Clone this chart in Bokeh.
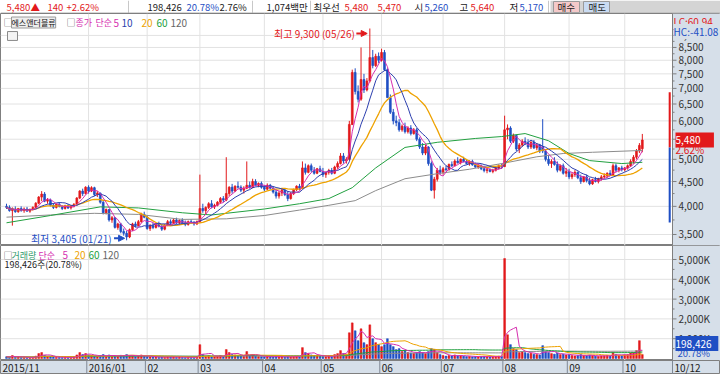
import numpy as np
import pandas as pd
from bokeh.plotting import figure
from bokeh.layouts import column
from bokeh.models import Range1d, Label, Arrow, NormalHead, ColumnDataSource
from bokeh.core.properties import value
from bokeh.embed import file_html
from bokeh.resources import INLINE

# ---------------- data ----------------
month_labels = ["2015/11", "2016/01", "02", "03", "04", "05", "06", "07", "08", "09", "10"]
month_starts = [0, 28, 48, 66, 88, 108, 128, 149, 170, 192, 211]
last_date_label = "10/12"
high_date = "05/26"
low_date = "01/21"

opens = [
    4000, 3980, 3920, 3950, 3900, 3960,
    3920, 3950, 3910, 3940, 3980, 4060, 4180, 4240, 4100, 4120, 4020, 3980, 4040, 4000, 3960, 4010, 3970, 4000, 4040, 4160, 4300, 4250,
    4380, 4300, 4370, 4230, 4260, 4080, 3880, 3940, 3750, 3790, 3620, 3680, 3550, 3520, 3460, 3580, 3680, 3650, 3720, 3850,
    3800, 3600, 3650, 3620, 3680, 3640, 3590, 3660, 3720, 3690, 3750, 3700, 3740, 3700, 3670, 3720, 3700, 3680,
    3720, 3960, 3920, 3980, 4050, 3990, 4020, 4080, 4150, 4120, 4250, 4380, 4300, 4400, 4380, 4320, 4360, 4420, 4380, 4500, 4420, 4460,
    4380, 4340, 4420, 4360, 4280, 4200, 4260, 4320, 4230, 4150, 4250, 4330, 4400, 4360, 4800, 4700, 4850, 4750, 4680, 4780,
    4720, 4650, 4700, 4740, 4680, 4820, 4900, 5080, 4960, 5000, 5900, 7550, 6900, 6650, 7300, 6950, 7250, 8100, 7800, 8150,
    8000, 8300, 7650, 6700, 6250, 6000, 5950, 5750, 5850, 5700, 5800, 5650, 5750, 5500, 5300, 5150, 5300, 4900, 4320, 4550, 4750,
    4700, 4780, 4760, 4880, 4850, 4960, 4920, 5000, 4950, 4900, 4950, 4870, 4820, 4850, 4780, 4740, 4760, 4720, 4750, 4800, 4850,
    4830, 5750, 5800, 5450, 5600, 5250, 5350, 5450, 5400, 5300, 5420, 5280, 5350, 5300, 5200, 5000, 4900, 4950, 4880, 4750, 4850, 4680,
    4720, 4600, 4650, 4700, 4580, 4500, 4600, 4520, 4450, 4540, 4500, 4560, 4600, 4620, 4680, 4640, 4850, 4750, 4800,
    4760, 4800, 4850, 4950, 5050, 5200, 5260,
]
highs = [
    4050, 4020, 3980, 4000, 3970, 4000,
    3980, 3990, 3960, 4000, 4080, 4200, 4300, 4280, 4160, 4150, 4060, 4050, 4080, 4020, 4030, 4040, 4020, 4060, 4180, 4320, 4350, 4400,
    4420, 4400, 4390, 4300, 4270, 4100, 3960, 3950, 3820, 3800, 3700, 3700, 3600, 3560, 3600, 3700, 3720, 3750, 3880, 3900,
    3820, 3680, 3700, 3700, 3720, 3660, 3680, 3750, 3760, 3780, 3790, 3760, 3780, 3740, 3740, 3760, 3730, 3740,
    4650, 4050, 4000, 4080, 4120, 4050, 4100, 4180, 4200, 5050, 4400, 4450, 4420, 4500, 4420, 4400, 4950, 4500, 4560, 4550, 4480, 4500,
    4420, 4460, 4450, 4400, 4330, 4300, 4350, 4360, 4300, 4280, 4350, 4420, 4450, 4950, 4900, 4880, 4900, 4820, 4800, 4850,
    4800, 4720, 4780, 4800, 4850, 4950, 5150, 5150, 5050, 6000, 7650, 7700, 7100, 8500, 7500, 7350, 9300, 8400, 8250, 8300,
    8450, 8400, 7700, 6800, 6350, 6150, 6050, 5900, 5950, 5850, 5880, 5800, 5800, 5550, 5400, 5350, 5320, 4950, 4600, 4800, 4850,
    4820, 4850, 4900, 4950, 5000, 5050, 5020, 5060, 5000, 4980, 4990, 4920, 4900, 4880, 4850, 4800, 4790, 4780, 4820, 4880, 4900,
    6150, 5900, 5850, 5650, 5620, 5400, 5500, 5550, 5500, 5450, 5480, 5400, 5380, 6050, 5250, 5100, 5000, 5050, 4950, 4880, 4900, 4800,
    4780, 4700, 4750, 4720, 4650, 4620, 4650, 4580, 4560, 4600, 4580, 4640, 4680, 4700, 4750, 4900, 4900, 4820, 4850,
    4820, 4880, 5000, 5100, 5250, 5400, 5640,
]
lows = [
    3950, 3900, 3650, 3880, 3880, 3900,
    3880, 3900, 3880, 3920, 3960, 4040, 4100, 4080, 4050, 4000, 3950, 3960, 3980, 3930, 3940, 3950, 3940, 3980, 4020, 4140, 4200, 4230,
    4250, 4280, 4200, 4180, 4050, 3850, 3850, 3720, 3700, 3600, 3580, 3520, 3480, 3405, 3440, 3560, 3620, 3640, 3700, 3780,
    3580, 3560, 3590, 3600, 3620, 3560, 3570, 3640, 3660, 3680, 3680, 3660, 3680, 3640, 3650, 3680, 3650, 3660,
    3700, 3880, 3850, 3950, 3960, 3950, 4000, 4050, 4080, 4100, 4200, 4250, 4280, 4350, 4280, 4250, 4340, 4350, 4360, 4400, 4380, 4350,
    4300, 4320, 4330, 4250, 4150, 4150, 4200, 4200, 4100, 4130, 4220, 4300, 4320, 4340, 4650, 4680, 4700, 4650, 4660, 4700,
    4600, 4580, 4650, 4650, 4660, 4780, 4880, 4900, 4900, 4980, 5880, 6800, 6550, 6600, 6850, 6900, 7200, 7700, 7750, 7900,
    7950, 7600, 6700, 6200, 5900, 5850, 5700, 5700, 5650, 5650, 5600, 5620, 5450, 5250, 5100, 5100, 4850, 4300, 4150, 4500, 4650,
    4650, 4720, 4740, 4820, 4830, 4900, 4880, 4930, 4880, 4850, 4850, 4800, 4780, 4750, 4700, 4680, 4700, 4680, 4720, 4760, 4780,
    4820, 5500, 5400, 5400, 5200, 5150, 5300, 5350, 5250, 5250, 5250, 5220, 5150, 5150, 4950, 4850, 4800, 4850, 4700, 4720, 4650, 4600,
    4550, 4550, 4600, 4550, 4450, 4480, 4480, 4420, 4430, 4480, 4460, 4520, 4560, 4580, 4620, 4630, 4700, 4700, 4720,
    4720, 4760, 4820, 4900, 5000, 5150, 5170,
]
closes = [
    3980, 3920, 3950, 3900, 3960, 3920,
    3950, 3910, 3940, 3980, 4060, 4180, 4240, 4100, 4120, 4020, 3980, 4040, 4000, 3960, 4010, 3970, 4000, 4040, 4160, 4300, 4250, 4380,
    4300, 4370, 4230, 4260, 4080, 3880, 3940, 3750, 3790, 3620, 3680, 3550, 3520, 3460, 3580, 3680, 3650, 3720, 3850, 3800,
    3600, 3650, 3620, 3680, 3640, 3590, 3660, 3720, 3690, 3750, 3700, 3740, 3700, 3670, 3720, 3700, 3680, 3720,
    3960, 3920, 3980, 4050, 3990, 4020, 4080, 4150, 4120, 4250, 4380, 4300, 4400, 4380, 4320, 4360, 4420, 4380, 4500, 4420, 4460, 4380,
    4340, 4420, 4360, 4280, 4200, 4260, 4320, 4230, 4150, 4250, 4330, 4400, 4360, 4800, 4700, 4850, 4750, 4680, 4780, 4720,
    4650, 4700, 4740, 4680, 4820, 4900, 5080, 4960, 5000, 5900, 7550, 6900, 6650, 7300, 6950, 7250, 8100, 7800, 8150, 8000,
    8300, 7650, 6700, 6250, 6000, 5950, 5750, 5850, 5700, 5800, 5650, 5750, 5500, 5300, 5150, 5300, 4900, 4320, 4550, 4750, 4700,
    4780, 4760, 4880, 4850, 4960, 4920, 5000, 4950, 4900, 4950, 4870, 4820, 4850, 4780, 4740, 4760, 4720, 4750, 4800, 4850, 4830,
    5750, 5800, 5450, 5600, 5250, 5350, 5450, 5400, 5300, 5420, 5280, 5350, 5200, 5200, 5000, 4900, 4950, 4880, 4750, 4850, 4680, 4720,
    4600, 4650, 4700, 4580, 4500, 4600, 4520, 4450, 4540, 4500, 4560, 4600, 4620, 4680, 4640, 4850, 4750, 4800, 4760,
    4800, 4850, 4950, 5050, 5200, 5340, 5480,
]
volumes = [
    90000, 70000, 150000, 60000, 80000, 60000,
    50000, 60000, 50000, 70000, 120000, 250000, 300000, 150000, 90000, 80000, 70000, 60000, 60000, 50000, 60000, 50000, 60000, 80000, 180000, 300000, 200000, 250000,
    180000, 150000, 120000, 100000, 150000, 200000, 120000, 180000, 100000, 150000, 120000, 160000, 150000, 200000, 150000, 130000, 100000, 120000, 180000, 120000,
    100000, 80000, 70000, 80000, 60000, 70000, 60000, 90000, 70000, 80000, 60000, 70000, 60000, 50000, 70000, 60000, 50000, 70000,
    700000, 200000, 120000, 150000, 100000, 90000, 120000, 150000, 100000, 450000, 300000, 200000, 180000, 150000, 120000, 100000, 350000, 150000, 200000, 120000, 100000, 90000,
    80000, 120000, 90000, 80000, 100000, 80000, 90000, 70000, 90000, 80000, 100000, 120000, 90000, 550000, 300000, 250000, 180000, 150000, 160000, 120000,
    100000, 90000, 120000, 100000, 200000, 250000, 400000, 250000, 200000, 1300000, 1800000, 1400000, 900000, 1500000, 800000, 700000, 1700000, 1000000, 800000, 700000,
    600000, 700000, 1000000, 700000, 600000, 450000, 500000, 350000, 400000, 300000, 280000, 260000, 300000, 350000, 300000, 250000, 350000, 500000, 450000, 300000, 200000,
    150000, 120000, 150000, 130000, 180000, 140000, 150000, 120000, 100000, 110000, 90000, 100000, 90000, 100000, 110000, 90000, 80000, 90000, 100000, 120000, 110000,
    5050000, 1200000, 700000, 500000, 450000, 300000, 350000, 300000, 250000, 260000, 220000, 200000, 180000, 650000, 350000, 300000, 250000, 220000, 280000, 200000, 220000, 180000,
    200000, 150000, 130000, 160000, 200000, 150000, 140000, 170000, 150000, 120000, 110000, 130000, 140000, 160000, 120000, 300000, 200000, 150000, 140000,
    180000, 200000, 280000, 300000, 400000, 900000, 198426,
]

# 60 / 120 day averages
ma60_idx = [0, 15, 32, 45, 60, 70, 88, 100, 110, 118, 126, 136, 147, 160, 169, 177, 185, 192, 199, 210, 217]
ma60_val = [3700, 3830, 3990, 3970, 3880, 3840, 3950, 4050, 4150, 4370, 4800, 5290, 5420, 5520, 5570, 5650, 5460, 5140, 4970, 4900, 4930]
ma120_idx = [0, 15, 30, 45, 60, 75, 88, 100, 110, 119, 126, 136, 147, 158, 169, 181, 190, 200, 217]
ma120_val = [3800, 3840, 3870, 3850, 3760, 3770, 3830, 3930, 4020, 4110, 4310, 4560, 4670, 4770, 4900, 5060, 5140, 5170, 5215]

range_band = [3705, 5290, 6870]  # low, split, high of the side bar

price_ticks = [3500, 4000, 4500, 5000, 5500, 6000, 6500, 7000, 7500, 8000, 8500, 9000]
vol_ticks = [1000000, 2000000, 3000000, 4000000, 5000000]

change = 140
change_pct = "+2.62%"
change_pct_short = "2.62%"
turnover_pct = "20.78%"
lc_text = "LC:60.94"
hc_text = "HC:-41.08"

assert len(opens) == len(highs) == len(lows) == len(closes) == len(volumes) == 218

# ---------------- style ----------------
KR = "Noto Sans CJK KR"
RED = "#e2191b"
BLUE = "#1f4fc4"
MAG = "#d62fb0"
NAVY = "#2c3fae"
ORANGE = "#eea200"
GREEN = "#22a040"
GRAY = "#8c8c8c"
PANEL = "#d6dfe9"
GRID = "#e2e2e2"
OUT = "#7f7f7f"
TXT = "#333333"

# x geometry: chart area is 672 px wide, then a 48 px axis strip
W, CW = 720, 672
X0, X1 = -2.05, 227.3
PXD = CW / (X1 - X0)            # pixels per trading day
XE = X0 + W / PXD               # data x at the right edge of the window

o = np.array(opens, float)
h = np.array(highs, float)
l = np.array(lows, float)
c = np.array(closes, float)
vol = np.array(volumes, float)
idx = np.arange(len(c))
up = c >= o


def base_fig(height, y_range, y_type="linear", bg="white"):
    f = figure(width=W, height=height, x_range=Range1d(X0, XE), y_range=y_range, y_axis_type=y_type,
               x_axis_location=None, y_axis_location=None, toolbar_location=None,
               output_backend="svg", title=None, min_border=0,
               background_fill_color=bg, border_fill_color=bg, outline_line_color=OUT)
    f.xgrid.visible = False
    f.ygrid.visible = False
    return f


def lab(fig, x, y, text, color, size="10px", xu="screen", yu="screen", **kw):
    fig.add_layout(Label(x=x, y=y, x_units=xu, y_units=yu, text=text, text_color=color,
                         text_font=KR, text_font_size=size, text_baseline="middle", **kw))


def axis_strip(fig, ymin, ymax, ticks, labels, minor):
    fig.quad(left=[X1], right=[XE], bottom=[ymin], top=[ymax], fill_color=PANEL, line_color=None)
    fig.segment(x0=[X1], y0=[ymin], x1=[X1], y1=[ymax], line_color=OUT, line_width=1)
    fig.segment(x0=[X1] * len(ticks), y0=ticks, x1=[X1 + 4 / PXD] * len(ticks), y1=ticks, line_color=OUT)
    fig.segment(x0=[X1] * len(minor), y0=minor, x1=[X1 + 2 / PXD] * len(minor), y1=minor, line_color=OUT)
    fig.text(x=[X1] * len(ticks), y=ticks, text=labels, x_offset=6, text_baseline="middle",
             text_color=TXT, text_font=value(KR), text_font_size="10px")


def grids(fig, ymin, ymax, ticks):
    fig.segment(x0=[X0] * len(ticks), y0=ticks, x1=[X1] * len(ticks), y1=ticks, line_color=GRID)
    ms = month_starts[1:]
    fig.segment(x0=ms, y0=[ymin] * len(ms), x1=ms, y1=[ymax] * len(ms), line_color=GRID)


# ---------------- header ----------------
hd = figure(width=W, height=13, x_range=Range1d(0, W), y_range=Range1d(13, 0),
            x_axis_location=None, y_axis_location=None, toolbar_location=None,
            output_backend="svg", min_border=0, title=None,
            background_fill_color="white", border_fill_color="white", outline_line_color=None)
hd.xgrid.visible = False
hd.ygrid.visible = False
hd.quad(left=[550], right=[720], top=[0], bottom=[13], fill_color="#d4d4d4", line_color=None)
hd.quad(left=[553, 583], right=[579, 609], top=[1, 1], bottom=[12, 12],
        fill_color=["#f4c9c9", "#c9dbf2"], line_color="#9a9a9a")
hd.segment(x0=[128, 252, 310, 548], y0=[0] * 4, x1=[128, 252, 310, 548], y1=[13] * 4, line_color="#c8c8c8")
hd.segment(x0=[0], y0=[12.5], x1=[720], y1=[12.5], line_color="#b0b0b0")
hdr = ColumnDataSource(dict(
    x=[6, 30, 47, 66, 147, 186, 219, 266, 313, 344, 377, 414, 424, 459, 470, 509, 519, 557, 588],
    text=[f"{c[-1]:,.0f}", "▲", f"{change}", change_pct, f"{vol[-1]:,.0f}", turnover_pct, "2.76%",
          "1,074백만", "최우선", f"{c[-1]:,.0f}", "5,470", "시", f"{o[-1]:,.0f}", "고", f"{h[-1]:,.0f}",
          "저", f"{l[-1]:,.0f}", "매수", "매도"],
    color=[RED, RED, RED, RED, "#222222", BLUE, "#222222", "#222222", "#222222", RED, RED, "#222222",
           BLUE, "#222222", RED, "#222222", BLUE, "#222222", "#222222"],
))
hd.text(x="x", y=6.8, text="text", text_color="color", source=hdr, text_font=value(KR),
        text_font_size="9.5px", text_baseline="middle")

# ---------------- price panel ----------------
PY0, PY1 = 3322, 9986
p = base_fig(232, Range1d(PY0, PY1), "log")
grids(p, PY0, PY1, price_ticks)

for mask, col in ((up, RED), (~up, BLUE)):
    src = ColumnDataSource(dict(x=idx[mask], o=o[mask], c=c[mask], h=h[mask], l=l[mask]))
    p.segment(x0="x", y0="h", x1="x", y1="l", source=src, line_color=col, line_width=1)
    p.vbar(x="x", width=0.62, top="o", bottom="c", source=src, fill_color=col, line_color=col, line_width=0.7)

cs = pd.Series(c)
p.line(ma120_idx, ma120_val, line_color=GRAY, line_width=1)
p.line(ma60_idx, ma60_val, line_color=GREEN, line_width=1)
p.line(idx, cs.rolling(20, min_periods=1).mean(), line_color=ORANGE, line_width=1.3)
p.line(idx, cs.rolling(10, min_periods=1).mean(), line_color=NAVY, line_width=1)
p.line(idx, cs.rolling(5, min_periods=1).mean(), line_color=MAG, line_width=1)

# side band at the right edge of the chart area
p.quad(left=[X1 - 1.3], right=[X1 - 0.6], bottom=[range_band[1]], top=[range_band[2]], fill_color=RED, line_color=None)
p.quad(left=[X1 - 1.3], right=[X1 - 0.6], bottom=[range_band[0]], top=[range_band[1]], fill_color=BLUE, line_color=None)

# max / min annotations
imax = int(np.argmax(h))
imin = int(np.argmin(l))
p.text(x=[imax], y=[h[imax]], text=[f"최고 {h[imax]:,.0f} ({high_date})"], x_offset=-15, y_offset=5,
       text_align="right", text_baseline="middle", text_color=RED, text_font=value(KR), text_font_size="10px")
p.add_layout(Arrow(end=NormalHead(size=6, fill_color=RED, line_color=RED), x_start=imax - 4.6,
                   x_end=imax - 0.9, y_start=h[imax] * 0.9766, y_end=h[imax] * 0.9766,
                   line_color=RED, line_width=2))
p.text(x=[imin], y=[l[imin]], text=[f"최저 {l[imin]:,.0f} ({low_date})"], x_offset=-15, y_offset=-2,
       text_align="right", text_baseline="middle", text_color=BLUE, text_font=value(KR), text_font_size="10px")
p.add_layout(Arrow(end=NormalHead(size=6, fill_color=BLUE, line_color=BLUE), x_start=imin - 4.3,
                   x_end=imin - 0.7, y_start=l[imin] * 1.0095, y_end=l[imin] * 1.0095,
                   line_color=BLUE, line_width=2))

# axis strip
axis_strip(p, PY0, PY1, price_ticks, [f"{t:,}" for t in price_ticks], [t + 250 for t in price_ticks])

# legend row
lab(p, 3, 223, "□", "#555555", "9px")
lab(p, 11, 223, "에스앤더블류", "#111111", "8px", background_fill_color="#eeeeee", border_line_color="#9a9a9a")
lab(p, 66, 223, "□", "#555555", "9px")
lab(p, 75, 223, "종가", MAG, "9px")
lab(p, 95, 223, "단순", MAG, "9px")
lab(p, 113, 223, "5", MAG)
lab(p, 121, 223, "10", NAVY)
lab(p, 141, 223, "20", ORANGE)
lab(p, 156, 223, "60", GREEN)
lab(p, 170, 223, "120", "#666666")
p.quad(left=[X0 + 7 / PXD], right=[X0 + 17 / PXD], bottom=[PY1 * 0.880], top=[PY1 * 0.918],
       fill_color="#f4f4f4", line_color="#8a8a8a")

# right strip labels
lab(p, 673, 224, lc_text, RED, background_fill_color=PANEL)
lab(p, 673, 214, hc_text, BLUE, background_fill_color=PANEL)
lab(p, 675, c[-1], f"{c[-1]:,.0f}      ", "white", yu="data", background_fill_color=RED)
lab(p, 675, c[-1], change_pct_short, RED, yu="data", y_offset=-10)

# ---------------- volume panel ----------------
VY0, VY1 = -101000, 5707000
v = base_fig(115, Range1d(VY0, VY1))
grids(v, VY0, VY1, vol_ticks)

for mask, col in ((up, RED), (~up, BLUE)):
    v.vbar(x=idx[mask], width=0.62, top=vol[mask], bottom=0, fill_color=col, line_color=col, line_width=0.5)
vs = pd.Series(vol)
v.line(idx, vs.rolling(120, min_periods=1).mean(), line_color=GRAY, line_width=1)
v.line(idx, vs.rolling(60, min_periods=1).mean(), line_color=GREEN, line_width=1)
v.line(idx, vs.rolling(20, min_periods=1).mean(), line_color=ORANGE, line_width=1)
v.line(idx, vs.rolling(5, min_periods=1).mean(), line_color=MAG, line_width=1)

axis_strip(v, VY0, VY1, vol_ticks, [f"{t // 1000:,}K" for t in vol_ticks], [t - 500000 for t in vol_ticks])

lab(v, 3, 105.5, "□", "#555555", "9px")
lab(v, 11, 105.5, "거래량", "#2f9a6a", "9px")
lab(v, 38, 105.5, "단순", MAG, "9px")
lab(v, 62, 105.5, "5", MAG)
lab(v, 74, 105.5, "20", ORANGE)
lab(v, 88, 105.5, "60", GREEN)
lab(v, 102, 105.5, "120", "#666666")
lab(v, 4, 96, f"{vol[-1]:,.0f}주({turnover_pct})", "#222222", "9px")
lab(v, 675, 17, f"{vol[-1]:,.0f}   ", "white", background_fill_color=BLUE)
lab(v, 677, 8, turnover_pct, BLUE, "9.5px")

# ---------------- date strip ----------------
d = base_fig(14, Range1d(0, 1), bg=PANEL)
sep = [s - 0.6 for s in month_starts[1:]] + [X1]
d.segment(x0=sep, y0=[0] * len(sep), x1=sep, y1=[1] * len(sep), line_color="#7f8894")
d.text(x=[X0] + sep, y=[0.5] * (len(sep) + 1), text=month_labels + [last_date_label], x_offset=2,
       text_baseline="middle", text_color="#222222", text_font=value(KR), text_font_size="10px")

layout = column(hd, p, v, d, spacing=0)
open("out.html", "w").write(file_html(layout, INLINE))
